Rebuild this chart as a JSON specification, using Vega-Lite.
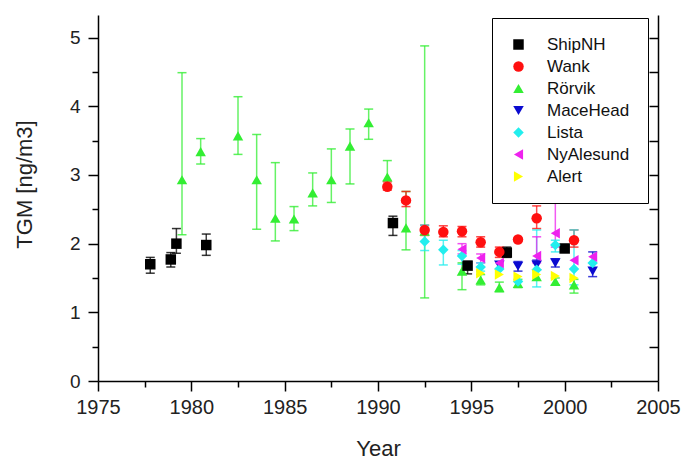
{
  "$schema": "https://vega.github.io/schema/vega-lite/v6.json",
  "width": 560,
  "height": 366,
  "autosize": {"type": "none"},
  "padding": {"left": 98, "top": 15, "right": 27, "bottom": 78},
  "config": {
    "view": {"stroke": null},
    "font": "Liberation Sans",
    "axis": {
      "domainColor": "#000",
      "domainWidth": 1.5,
      "tickColor": "#000",
      "tickWidth": 1.5,
      "grid": false,
      "labelColor": "#222",
      "titleColor": "#222",
      "titleFontWeight": "normal"
    },
    "legend": {
      "orient": "none",
      "legendX": 394,
      "legendY": 3,
      "strokeColor": "#000",
      "fillColor": "#fff",
      "padding": 18,
      "labelFontSize": 17,
      "labelColor": "#111",
      "symbolSize": 110,
      "rowPadding": 4,
      "labelOffset": 20,
      "symbolStrokeWidth": 0,
      "symbolOpacity": 1
    }
  },
  "data": {
    "values": [
      {"station": "Rörvik", "year": 1979.5, "value": 2.93, "lo": 2.13, "hi": 4.49},
      {"station": "Rörvik", "year": 1980.5, "value": 3.34, "lo": 3.16, "hi": 3.53},
      {"station": "Rörvik", "year": 1982.5, "value": 3.57, "lo": 3.30, "hi": 4.14},
      {"station": "Rörvik", "year": 1983.5, "value": 2.93, "lo": 2.21, "hi": 3.59},
      {"station": "Rörvik", "year": 1984.5, "value": 2.37, "lo": 2.04, "hi": 3.18},
      {"station": "Rörvik", "year": 1985.5, "value": 2.36, "lo": 2.19, "hi": 2.54},
      {"station": "Rörvik", "year": 1986.5, "value": 2.74, "lo": 2.55, "hi": 3.03},
      {"station": "Rörvik", "year": 1987.5, "value": 2.93, "lo": 2.60, "hi": 3.38},
      {"station": "Rörvik", "year": 1988.5, "value": 3.42, "lo": 2.87, "hi": 3.67},
      {"station": "Rörvik", "year": 1989.5, "value": 3.76, "lo": 3.52, "hi": 3.96},
      {"station": "Rörvik", "year": 1990.5, "value": 2.97, "lo": 2.82, "hi": 3.21},
      {"station": "Rörvik", "year": 1991.5, "value": 2.23, "lo": 1.91, "hi": 2.76},
      {"station": "Rörvik", "year": 1992.5, "value": 2.18, "lo": 1.21, "hi": 4.88},
      {"station": "Rörvik", "year": 1994.5, "value": 1.60, "lo": 1.33, "hi": 1.72},
      {"station": "Rörvik", "year": 1995.5, "value": 1.47, "lo": 1.40, "hi": 1.55},
      {"station": "Rörvik", "year": 1996.5, "value": 1.36, "lo": 1.30, "hi": 1.44},
      {"station": "Rörvik", "year": 1997.5, "value": 1.42, "lo": 1.36, "hi": 1.48},
      {"station": "Rörvik", "year": 1998.5, "value": 1.52, "lo": null, "hi": null},
      {"station": "Rörvik", "year": 1999.5, "value": 1.45, "lo": 1.40, "hi": 1.50},
      {"station": "Rörvik", "year": 2000.5, "value": 1.40, "lo": 1.28, "hi": 1.48},
      {"station": "ShipNH", "year": 1977.8, "value": 1.70, "lo": 1.57, "hi": 1.80},
      {"station": "ShipNH", "year": 1978.9, "value": 1.77, "lo": 1.66, "hi": 1.87},
      {"station": "ShipNH", "year": 1979.2, "value": 2.00, "lo": 1.86, "hi": 2.22},
      {"station": "ShipNH", "year": 1980.8, "value": 1.98, "lo": 1.83, "hi": 2.14},
      {"station": "ShipNH", "year": 1990.8, "value": 2.30, "lo": 2.12, "hi": 2.40},
      {"station": "ShipNH", "year": 1994.8, "value": 1.68, "lo": 1.56, "hi": 1.74},
      {"station": "ShipNH", "year": 1996.9, "value": 1.87, "lo": 1.80, "hi": 1.95},
      {"station": "ShipNH", "year": 2000.0, "value": 1.93, "lo": null, "hi": null},
      {"station": "Wank", "year": 1990.5, "value": 2.83, "lo": 2.78, "hi": 2.90},
      {"station": "Wank", "year": 1991.5, "value": 2.63, "lo": 2.54, "hi": 2.76},
      {"station": "Wank", "year": 1992.5, "value": 2.20, "lo": 2.12, "hi": 2.27},
      {"station": "Wank", "year": 1993.5, "value": 2.17, "lo": 2.10, "hi": 2.26},
      {"station": "Wank", "year": 1994.5, "value": 2.18, "lo": 2.10, "hi": 2.25},
      {"station": "Wank", "year": 1995.5, "value": 2.02, "lo": 1.95, "hi": 2.10},
      {"station": "Wank", "year": 1996.5, "value": 1.88, "lo": 1.80, "hi": 1.95},
      {"station": "Wank", "year": 1997.5, "value": 2.06, "lo": null, "hi": null},
      {"station": "Wank", "year": 1998.5, "value": 2.37, "lo": 2.22, "hi": 2.55},
      {"station": "Wank", "year": 2000.5, "value": 2.05, "lo": 1.95, "hi": 2.20},
      {"station": "MaceHead", "year": 1996.5, "value": 1.69, "lo": null, "hi": null},
      {"station": "MaceHead", "year": 1997.5, "value": 1.67, "lo": 1.60, "hi": 1.74},
      {"station": "MaceHead", "year": 1998.5, "value": 1.69, "lo": 1.62, "hi": 1.76},
      {"station": "MaceHead", "year": 1999.5, "value": 1.72, "lo": 1.66, "hi": 1.78},
      {"station": "MaceHead", "year": 2001.5, "value": 1.60, "lo": 1.52, "hi": 1.88},
      {"station": "Lista", "year": 1992.5, "value": 2.03, "lo": 1.90, "hi": 2.27},
      {"station": "Lista", "year": 1993.5, "value": 1.91, "lo": 1.69, "hi": 2.05},
      {"station": "Lista", "year": 1994.5, "value": 1.82, "lo": 1.70, "hi": 1.90},
      {"station": "Lista", "year": 1995.5, "value": 1.66, "lo": 1.60, "hi": 1.72},
      {"station": "Lista", "year": 1996.5, "value": 1.63, "lo": null, "hi": null},
      {"station": "Lista", "year": 1997.5, "value": 1.45, "lo": null, "hi": null},
      {"station": "Lista", "year": 1998.5, "value": 1.62, "lo": 1.37, "hi": 2.20},
      {"station": "Lista", "year": 1999.5, "value": 1.98, "lo": 1.88, "hi": 2.05},
      {"station": "Lista", "year": 2000.5, "value": 1.63, "lo": 1.40, "hi": 2.20},
      {"station": "Lista", "year": 2001.5, "value": 1.72, "lo": null, "hi": null},
      {"station": "NyAlesund", "year": 1994.5, "value": 1.92, "lo": 1.85, "hi": 2.00},
      {"station": "NyAlesund", "year": 1995.5, "value": 1.79, "lo": 1.72, "hi": 1.85},
      {"station": "NyAlesund", "year": 1996.5, "value": 1.72, "lo": null, "hi": null},
      {"station": "NyAlesund", "year": 1998.5, "value": 1.82, "lo": 1.72, "hi": 2.10},
      {"station": "NyAlesund", "year": 1999.5, "value": 2.15, "lo": 1.95, "hi": 2.60},
      {"station": "NyAlesund", "year": 2000.5, "value": 1.76, "lo": null, "hi": null},
      {"station": "NyAlesund", "year": 2001.5, "value": 1.81, "lo": null, "hi": null},
      {"station": "Alert", "year": 1995.5, "value": 1.57, "lo": null, "hi": null},
      {"station": "Alert", "year": 1996.5, "value": 1.55, "lo": null, "hi": null},
      {"station": "Alert", "year": 1997.5, "value": 1.52, "lo": null, "hi": null},
      {"station": "Alert", "year": 1998.5, "value": 1.55, "lo": null, "hi": null},
      {"station": "Alert", "year": 1999.5, "value": 1.53, "lo": null, "hi": null},
      {"station": "Alert", "year": 2000.5, "value": 1.50, "lo": null, "hi": null}
    ]
  },
  "encoding": {
    "x": {
      "field": "year",
      "type": "quantitative",
      "scale": {"domain": [1975, 2005], "nice": false, "zero": false},
      "axis": null
    },
    "color": {
      "field": "station",
      "type": "nominal",
      "scale": {
        "domain": ["ShipNH", "Wank", "Rörvik", "MaceHead", "Lista", "NyAlesund", "Alert"],
        "range": ["#000000", "#ff1010", "#33ee33", "#0a0ad0", "#22eeee", "#ee22ee", "#ffff00"]
      },
      "legend": {"title": null}
    }
  },
  "layer": [
    {
      "mark": {"type": "rule", "strokeWidth": 1.5, "opacity": 0.75},
      "encoding": {
        "x": {
          "field": "year",
          "type": "quantitative",
          "axis": {
            "orient": "bottom",
            "title": null,
            "values": [1977.5, 1982.5, 1987.5, 1992.5, 1997.5, 2002.5],
            "labels": false,
            "domain": false,
            "tickSize": 6
          }
        },
        "y": {
          "field": "lo",
          "type": "quantitative",
          "scale": {"domain": [0, 5.33], "nice": false},
          "axis": {"orient": "right", "title": null, "labels": false, "ticks": false, "domain": true}
        },
        "y2": {"field": "hi"}
      }
    },
    {
      "mark": {"type": "tick", "orient": "horizontal", "size": 9, "thickness": 1.5, "opacity": 0.8},
      "encoding": {
        "y": {
          "field": "lo",
          "type": "quantitative",
          "axis": {
            "orient": "left",
            "title": null,
            "labels": false,
            "domain": false,
            "values": [0.5, 1.5, 2.5, 3.5, 4.5],
            "tickSize": 6
          }
        }
      }
    },
    {
      "mark": {"type": "tick", "orient": "horizontal", "size": 9, "thickness": 1.5, "opacity": 0.8},
      "encoding": {
        "y": {
          "field": "hi",
          "type": "quantitative",
          "axis": {
            "orient": "right",
            "title": null,
            "labels": false,
            "domain": false,
            "offset": -9,
            "values": [0.5, 1, 1.5, 2, 2.5, 3, 3.5, 4, 4.5, 5],
            "tickSize": 9
          }
        }
      }
    },
    {
      "mark": {"type": "point", "filled": true, "opacity": 1, "size": 110, "strokeWidth": 0},
      "encoding": {
        "x": {
          "field": "year",
          "type": "quantitative",
          "axis": {
            "orient": "bottom",
            "title": "Year",
            "titleFontSize": 22,
            "titleBaseline": "alphabetic",
            "titleY": 74,
            "values": [1975, 1980, 1985, 1990, 1995, 2000, 2005],
            "format": "d",
            "labelFontSize": 20,
            "labelPadding": 6,
            "tickSize": 10,
            "labelFlush": false,
            "labelOverlap": false
          }
        },
        "y": {
          "field": "value",
          "type": "quantitative",
          "axis": {
            "orient": "left",
            "title": "TGM [ng/m3]",
            "titleFontSize": 22,
            "titleX": -62,
            "titleY": 169,
            "values": [0, 1, 2, 3, 4, 5],
            "labelFontSize": 19,
            "labelPadding": 8,
            "tickSize": 10
          }
        },
        "shape": {
          "field": "station",
          "type": "nominal",
          "scale": {
            "domain": ["ShipNH", "Wank", "Rörvik", "MaceHead", "Lista", "NyAlesund", "Alert"],
            "range": ["square", "circle", "triangle-up", "triangle-down", "diamond", "triangle-left", "triangle-right"]
          },
          "legend": {"title": null}
        }
      }
    }
  ],
  "resolve": {"axis": {"x": "independent", "y": "independent"}}
}
